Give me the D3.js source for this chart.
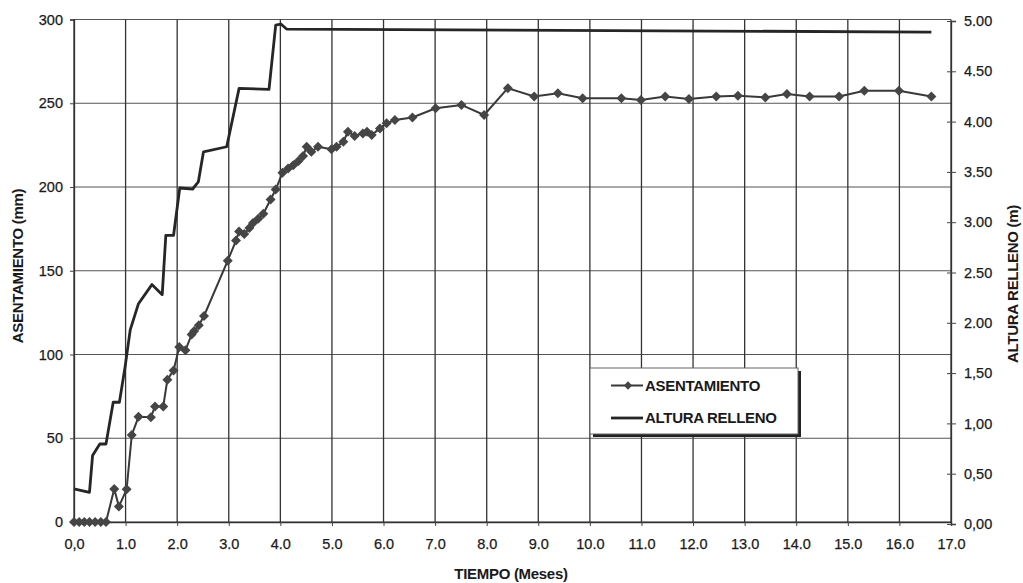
<!DOCTYPE html>
<html>
<head>
<meta charset="utf-8">
<script src="https://cdn.jsdelivr.net/npm/d3@7"></script>
<style>
  body { margin: 0; background: #fff; }
  text { font-family: "Liberation Sans", Arial, sans-serif; fill: #1a1a1a; }
</style>
</head>
<body>
<div id="chart"></div>
<script>
// ASENTAMIENTO (mm) vs TIEMPO (meses)
var asentTiempo = [0, 0.1, 0.2, 0.3, 0.41, 0.52, 0.62, 0.78, 0.87, 1.02, 1.12, 1.25, 1.49, 1.57, 1.73, 1.81, 1.93,
  2.04, 2.16, 2.28, 2.33, 2.42, 2.52, 2.98, 3.14, 3.20, 3.30, 3.40, 3.47, 3.57, 3.67, 3.81, 3.91,
  4.04, 4.15, 4.25, 4.35, 4.44, 4.51, 4.60, 4.73, 4.99, 5.09, 5.22, 5.31, 5.44, 5.60, 5.68, 5.77, 5.93,
  6.06, 6.22, 6.56, 7.01, 7.51, 7.95, 8.41, 8.92, 9.38, 9.86, 10.61, 10.99, 11.46, 11.92, 12.45, 12.87,
  13.40, 13.82, 14.26, 14.83, 15.32, 15.99, 16.62];
var asentValor = [0, 0, 0, 0, 0, 0, 0, 19.7, 9.2, 19.5, 52, 62.8, 62.5, 69, 69, 85, 90.5,
  104.5, 102.5, 112, 114, 117.5, 123, 156, 168, 173.5, 172, 175.5, 178.5, 181, 184, 192.5, 198.5,
  208.5, 211, 213, 215.5, 218.5, 224, 221, 224, 222.5, 224, 227, 233, 230.5, 232, 233, 231, 235,
  238, 240, 241.5, 247, 249, 243, 259, 254, 256, 253, 253, 252, 254, 252.5, 254, 254.5,
  253.5, 255.5, 254, 254, 257.5, 257.5, 254];

// ALTURA RELLENO (m)
var rellenoTiempo = [0, 0.3, 0.36, 0.5, 0.62, 0.76, 0.88, 0.99, 1.09, 1.25, 1.51, 1.71, 1.78, 1.93,
  2.05, 2.30, 2.41, 2.51, 2.96, 3.20, 3.78, 3.91, 4.01, 4.12, 16.62];
var rellenoAltura = [0.35, 0.315, 0.68, 0.795, 0.795, 1.21, 1.21, 1.56, 1.93, 2.19, 2.38, 2.28, 2.87, 2.87,
  3.34, 3.33, 3.40, 3.70, 3.75, 4.33, 4.32, 4.96, 4.97, 4.92, 4.89];

var xTicks = d3.range(0, 18);
var xTickLabels = ["0,0", "1.0", "2.0", "3.0", "4.0", "5.0", "6.0", "7.0", "8.0", "9.0", "10.0",
  "11.0", "12.0", "13.0", "14.0", "15.0", "16.0", "17.0"];
var yLeftTicks = [0, 50, 100, 150, 200, 250, 300];
var yRightTicks = [0, 0.5, 1, 1.5, 2, 2.5, 3, 3.5, 4, 4.5, 5];
var yRightTickLabels = ["0,00", "0,50", "1,00", "1,50", "2.00", "2.50", "3.00", "3.50", "4.00", "4.50", "5.00"];

var width = 1023, height = 583;
var plotLeft = 74, plotRight = 951, plotTop = 19.5, plotBottom = 522;

var svg = d3.select("#chart")
  .append("svg")
  .attr("width", width)
  .attr("height", height);

var x = d3.scaleLinear().domain([0, 17]).range([plotLeft, plotRight]);
var yL = d3.scaleLinear().domain([0, 300]).range([plotBottom, plotTop]);
var yR = d3.scaleLinear().domain([0, 5]).range([plotBottom + 2, plotTop + 1.5]);

// grid
svg.append("g")
  .selectAll("line")
  .data(yLeftTicks)
  .enter()
  .append("line")
  .attr("x1", plotLeft).attr("x2", plotRight)
  .attr("y1", d => yL(d)).attr("y2", d => yL(d))
  .attr("stroke", "#555").attr("stroke-width", 1.1);

svg.append("g")
  .selectAll("line")
  .data(xTicks)
  .enter()
  .append("line")
  .attr("x1", d => x(d)).attr("x2", d => x(d))
  .attr("y1", plotTop).attr("y2", plotBottom)
  .attr("stroke", "#333").attr("stroke-width", 1.3);

// axes
var xAxis = d3.axisBottom(x)
  .tickValues(xTicks)
  .tickFormat((d, i) => xTickLabels[i])
  .tickSize(4)
  .tickPadding(13);
var gx = svg.append("g").attr("transform", `translate(0,${plotBottom})`).call(xAxis);

var yAxisL = d3.axisLeft(yL)
  .tickValues(yLeftTicks)
  .tickSize(4)
  .tickPadding(7);
var gyl = svg.append("g").attr("transform", `translate(${plotLeft},0)`).call(yAxisL);

var yAxisR = d3.axisRight(yR)
  .tickValues(yRightTicks)
  .tickFormat((d, i) => yRightTickLabels[i])
  .tickSize(5)
  .tickPadding(8);
var gyr = svg.append("g").attr("transform", `translate(${plotRight},0)`).call(yAxisR);
gyr.selectAll(".tick line").attr("x1", -4);

[gx, gyl, gyr].forEach(function(g) {
  g.attr("font-size", null).attr("font-family", null);
  g.select(".domain").attr("stroke", "#333").attr("stroke-width", 1.3);
  g.selectAll(".tick line").attr("stroke", "#444");
  g.selectAll(".tick text")
    .style("font-family", "'Liberation Sans', Arial, sans-serif")
    .style("font-size", "14.5px")
    .attr("fill", "#1a1a1a")
    .attr("stroke", "#1a1a1a")
    .attr("stroke-width", 0.25);
});

// ALTURA RELLENO line
var relleno = rellenoTiempo.map((t, i) => ({ t: t, v: rellenoAltura[i] }));
svg.append("path")
  .datum(relleno)
  .attr("fill", "none")
  .attr("stroke", "#262626")
  .attr("stroke-width", 2.8)
  .attr("stroke-linejoin", "round")
  .attr("d", d3.line().x(d => x(d.t)).y(d => yR(d.v)));

// ASENTAMIENTO line + markers
var asent = asentTiempo.map((t, i) => ({ t: t, v: asentValor[i] }));
svg.append("path")
  .datum(asent)
  .attr("fill", "none")
  .attr("stroke", "#383838")
  .attr("stroke-width", 2)
  .attr("d", d3.line().x(d => x(d.t)).y(d => yL(d.v)));

var rhombus = {
  draw: function(context, size) {
    var r = Math.sqrt(size) / 2;
    context.moveTo(0, -r);
    context.lineTo(r, 0);
    context.lineTo(0, r);
    context.lineTo(-r, 0);
    context.closePath();
  }
};
var marker = d3.symbol().type(rhombus).size(100);

svg.append("g")
  .selectAll("path")
  .data(asent)
  .enter()
  .append("path")
  .attr("transform", d => `translate(${x(d.t)},${yL(d.v)})`)
  .attr("d", marker)
  .attr("fill", "#454545");

// legend
var legend = svg.append("g").attr("transform", "translate(590,368)");
legend.append("rect")
  .attr("x", 3).attr("y", 3).attr("width", 208).attr("height", 66)
  .attr("fill", "#222");
legend.append("rect")
  .attr("x", 0).attr("y", 0).attr("width", 208).attr("height", 66)
  .attr("fill", "#fff").attr("stroke", "#666").attr("stroke-width", 1);

legend.append("line")
  .attr("x1", 21).attr("x2", 53).attr("y1", 17.5).attr("y2", 17.5)
  .attr("stroke", "#383838").attr("stroke-width", 2);
legend.append("path")
  .attr("transform", "translate(38,17.5)")
  .attr("d", d3.symbol().type(rhombus).size(70))
  .attr("fill", "#454545");
legend.append("line")
  .attr("x1", 21).attr("x2", 53).attr("y1", 50).attr("y2", 50)
  .attr("stroke", "#262626").attr("stroke-width", 2.8);

legend.selectAll(".legend-text")
  .data(["ASENTAMIENTO", "ALTURA RELLENO"])
  .enter()
  .append("text")
  .attr("x", 55)
  .attr("y", (d, i) => i === 0 ? 17.5 : 50)
  .attr("dy", "0.36em")
  .style("font-size", "15px")
  .style("font-weight", "bold")
  .style("letter-spacing", "-0.3px")
  .text(d => d);

// axis titles
svg.append("text")
  .attr("x", 511)
  .attr("y", 579)
  .attr("text-anchor", "middle")
  .style("font-size", "15px")
  .style("font-weight", "bold")
  .style("letter-spacing", "-0.3px")
  .text("TIEMPO (Meses)");

svg.append("text")
  .attr("transform", "translate(23,266) rotate(-90)")
  .attr("text-anchor", "middle")
  .style("font-size", "15px")
  .style("font-weight", "bold")
  .style("letter-spacing", "-0.3px")
  .text("ASENTAMIENTO (mm)");

svg.append("text")
  .attr("transform", "translate(1018,284) rotate(-90)")
  .attr("text-anchor", "middle")
  .style("font-size", "15px")
  .style("font-weight", "bold")
  .style("letter-spacing", "-0.3px")
  .text("ALTURA RELLENO (m)");
</script>
</body>
</html>
